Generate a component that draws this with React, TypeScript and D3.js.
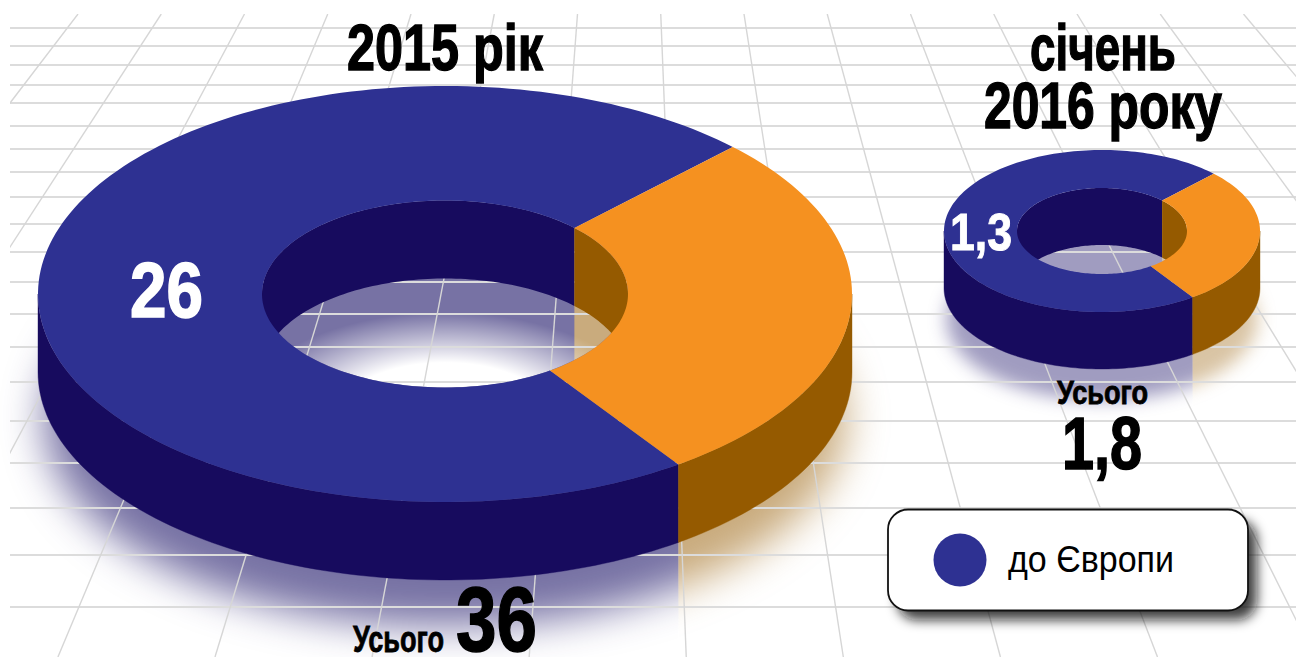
import React from "react";
import * as d3 from "d3";

// ---- data ----
const values2015 = [26, 10];
const values2016 = [1.3, 0.5];
const title2015 = ["2015 рік"];
const title2016 = ["січень", "2016 року"];
const totalWord = "Усього";
const total2015 = "36";
const total2016 = "1,8";
const label2015 = "26";
const label2016 = "1,3";
const legendLabel = "до Європи";

// ---- layout / style ----
const W = 1304, H = 657;
const FONT = "'Liberation Sans Narrow','Arial Narrow','Liberation Sans',sans-serif";
const BLUE = "#2e3192", BLUE_DARK = "#170b5e", ORANGE = "#f59120", ORANGE_DARK = "#955a00";
const topColors = [BLUE, ORANGE];
const sideColors = [BLUE_DARK, ORANGE_DARK];
const shadowColors = ["#1d1468", "#955a00"];
const rad = Math.PI / 180;
const gridRowY = [28, 46, 65, 85, 103, 126, 149, 172, 197, 224, 252, 282, 314, 347, 382, 421, 463, 508, 555, 607];
const gridTopY = 14, gridLeft = 10, gridRight = 1296;
const gridColTop = d3.range(0, 15).map((i) => 78 + i * 83.25);
const vanishX = 632, vanishDepth = 725;

type Donut = {
  id: string; values: number[]; cx: number; cy: number; rx: number; ry: number;
  irx: number; iry: number; depth: number; blur: number; shadowDrop: number; shadowAlpha: number;
  floorR: number; floorStops: [number, number]; start: number;
};

const big: Donut = { id: "a", values: values2015, cx: 445, cy: 294, rx: 407, ry: 208, irx: 183, iry: 93.5, depth: 78, blur: 20, shadowDrop: 46, shadowAlpha: 0.6, floorR: 132, floorStops: [0.42, 0.8], start: 145 };
const small: Donut = { id: "b", values: values2016, cx: 1102, cy: 231, rx: 158, ry: 81, irx: 85, iry: 43, depth: 57, blur: 9, shadowDrop: 31, shadowAlpha: 0.42, floorR: 90, floorStops: [0.2, 0.45], start: 145 };

function slicesOf(d: Donut) {
  return d3.pie<number>().sort(null).startAngle(d.start * rad).endAngle((d.start + 360) * rad)(d.values);
}

function anglesBetween(a0: number, a1: number) {
  const n = Math.max(2, Math.ceil((a1 - a0) / (rad * 1.5)));
  const scale = d3.scaleLinear().domain([0, n]).range([a0, a1]);
  return d3.range(n + 1).map((i) => scale(i));
}

function wallPath(d: Donut, rx: number, ry: number, a0: number, a1: number) {
  const angles = anglesBetween(a0, a1);
  const px = (a: number) => d.cx + rx * Math.sin(a);
  const py = (a: number) => d.cy - ry * Math.cos(a);
  const top = angles.map((a) => [px(a), py(a)] as [number, number]);
  const bottom = angles.slice().reverse().map((a) => [px(a), py(a) + d.depth] as [number, number]);
  return d3.line()([...top, ...bottom]) + "Z";
}

function clampWall(a0: number, a1: number, lo: number, hi: number): [number, number][] {
  const out: [number, number][] = [];
  for (const k of [-1, 0, 1]) {
    const s = Math.max(a0, lo + k * 2 * Math.PI);
    const e = Math.min(a1, hi + k * 2 * Math.PI);
    if (e > s) out.push([s, e]);
  }
  return out;
}

const mix = (c: string, alpha: number) => d3.interpolateRgb("#ffffff", c)(alpha);

function Grid() {
  return (
    <g>
      {gridRowY.map((y) => (
        <line key={y} x1={gridLeft} x2={gridRight} y1={y} y2={y} stroke="#dcdcdc" strokeWidth={2} />
      ))}
      {gridColTop.map((x0) => {
        const m = (x0 - vanishX) / vanishDepth;
        return <line key={x0} x1={x0} y1={gridTopY} x2={x0 + m * (H - gridTopY)} y2={H} stroke="#d6d6d6" strokeWidth={1.4} />;
      })}
    </g>
  );
}

function Chart({ d }: { d: Donut }) {
  const slices = slicesOf(d);
  const frontSeam = d.cx + d.rx * Math.sin(slices[0].startAngle);
  const backAngle = slices[0].endAngle;
  const shadowCy = d.cy + d.depth + d.shadowDrop;
  const k = d.iry / d.irx;

  const floorPiece = (a0: number, a1: number) =>
    d3.line()(anglesBetween(a0, a1).map((a) => [d.cx + d.irx * Math.sin(a), d.cy - d.iry * Math.cos(a)] as [number, number])) + "Z";
  const mirror = Math.PI - (backAngle - 2 * Math.PI);
  const floorLeft = floorPiece(mirror, backAngle);
  const floorRight = floorPiece(backAngle - 2 * Math.PI, mirror);

  const outerShadow = (i: number) => (
    <g clipPath={`url(#${d.id}Out${i})`}>
      <g filter={`url(#${d.id}blur)`}>
        <ellipse cx={d.cx} cy={shadowCy} rx={d.rx * 0.985} ry={d.ry} fill={shadowColors[i]} fillOpacity={i === 0 ? d.shadowAlpha : d.shadowAlpha * 0.85} />
      </g>
    </g>
  );

  return {
    ground: (
      <g>
        <defs>
          <filter id={`${d.id}blur`} filterUnits="userSpaceOnUse" x={0} y={0} width={W} height={H + 200} colorInterpolationFilters="sRGB">
            <feGaussianBlur stdDeviation={d.blur} />
          </filter>
          <clipPath id={`${d.id}Out0`}><rect x={0} y={0} width={frontSeam} height={H} /></clipPath>
          <clipPath id={`${d.id}Out1`}><rect x={frontSeam} y={0} width={W - frontSeam} height={H} /></clipPath>
          <clipPath id={`${d.id}Hole`}><ellipse cx={d.cx} cy={d.cy} rx={d.irx} ry={d.iry} /></clipPath>
          <radialGradient id={`${d.id}Fade`} gradientUnits="userSpaceOnUse" cx={0} cy={0} r={d.floorR}
            gradientTransform={`translate(${d.cx},${shadowCy}) scale(${1 / k},1)`}>
            <stop offset={d.floorStops[0]} stopColor="#ffffff" stopOpacity={1} />
            <stop offset={d.floorStops[1]} stopColor="#ffffff" stopOpacity={0} />
          </radialGradient>
        </defs>
        {outerShadow(0)}
        {outerShadow(1)}
      </g>
    ),
    body: (
      <g>
        <path d={floorLeft} fill={mix(shadowColors[0], d.shadowAlpha)} />
        <path d={floorRight} fill={mix(shadowColors[1], d.shadowAlpha * 0.85)} />
        <ellipse cx={d.cx} cy={d.cy} rx={d.irx} ry={d.iry} fill={`url(#${d.id}Fade)`} />
        <g clipPath={`url(#${d.id}Hole)`}><Grid /></g>
        {slices.map((s, i) =>
          clampWall(s.startAngle, s.endAngle, 270 * rad, 450 * rad).map(([a, b], j) => (
            <path key={`i${i}${j}`} d={wallPath(d, d.irx, d.iry, a, b)} fill={sideColors[i]} />
          ))
        )}
        {slices.map((s, i) =>
          clampWall(s.startAngle, s.endAngle, 90 * rad, 270 * rad).map(([a, b], j) => (
            <path key={`o${i}${j}`} d={wallPath(d, d.rx, d.ry, a, b)} fill={sideColors[i]} stroke={sideColors[i]} strokeWidth={0.4} />
          ))
        )}
        {slices.map((s, i) => {
          const angles = anglesBetween(s.startAngle, s.endAngle);
          const pts: [number, number][] = [
            ...angles.map((a) => [d.cx + d.rx * Math.sin(a), d.cy - d.ry * Math.cos(a)] as [number, number]),
            ...angles.slice().reverse().map((a) => [d.cx + d.irx * Math.sin(a), d.cy - d.iry * Math.cos(a)] as [number, number]),
          ];
          return <path key={`t${i}`} d={d3.line()(pts) + "Z"} fill={topColors[i]} />;
        })}
      </g>
    ),
  };
}

function Label({ x, y, w, size, children, fill = "#000", weight = "bold", sw = 0.6 }: any) {
  return (
    <text x={x} y={y} textLength={w} lengthAdjust="spacingAndGlyphs" fontFamily={FONT} fontSize={size}
      fontWeight={weight} fill={fill} stroke={sw ? fill : "none"} strokeWidth={sw}>
      {children}
    </text>
  );
}

export default function App() {
  const A = Chart({ d: big });
  const B = Chart({ d: small });
  return (
    <svg width={W} height={H} viewBox={`0 0 ${W} ${H}`} style={{ position: "absolute", left: 0, top: 0, display: "block", background: "#fff" }}>
      <defs>
        <clipPath id="gridClip"><rect x={gridLeft} y={gridTopY} width={gridRight - gridLeft} height={H - gridTopY} /></clipPath>
        <filter id="legendBlur" x="-10%" y="-30%" width="120%" height="160%"><feGaussianBlur stdDeviation={6} /></filter>
      </defs>
      {A.ground}
      {B.ground}
      <g clipPath="url(#gridClip)"><Grid /></g>
      {A.body}
      {B.body}

      <Label x={347} y={70} w={196} size={64} sw={1.4}>{title2015[0]}</Label>
      <Label x={1030} y={70} w={146} size={64} sw={1.4}>{title2016[0]}</Label>
      <Label x={984} y={128} w={238} size={64} sw={1.4}>{title2016[1]}</Label>

      <Label x={130} y={317} w={73} size={77} fill="#fff" sw={1.6}>{label2015}</Label>
      <Label x={950} y={250} w={62} size={52} fill="#fff" sw={1}>{label2016}</Label>

      <Label x={353} y={652} w={91} size={37} sw={0.8}>{totalWord}</Label>
      <Label x={456} y={651} w={81} size={91} sw={1.6}>{total2015}</Label>
      <Label x={1057} y={404} w={91} size={33} sw={0.8}>{totalWord}</Label>
      <Label x={1062} y={469} w={80} size={75} sw={1.6}>{total2016}</Label>

      <rect x={897} y={520} width={360} height={100} rx={20} fill="#111" fillOpacity={0.8} filter="url(#legendBlur)" />
      <rect x={888} y={509.5} width={360} height={101} rx={20} fill="#fff" stroke="#111" strokeWidth={1.8} />
      <circle cx={960} cy={560} r={26.5} fill={BLUE} />
      <Label x={1008} y={572} w={166} size={37} weight="normal" sw={0}>{legendLabel}</Label>
    </svg>
  );
}
